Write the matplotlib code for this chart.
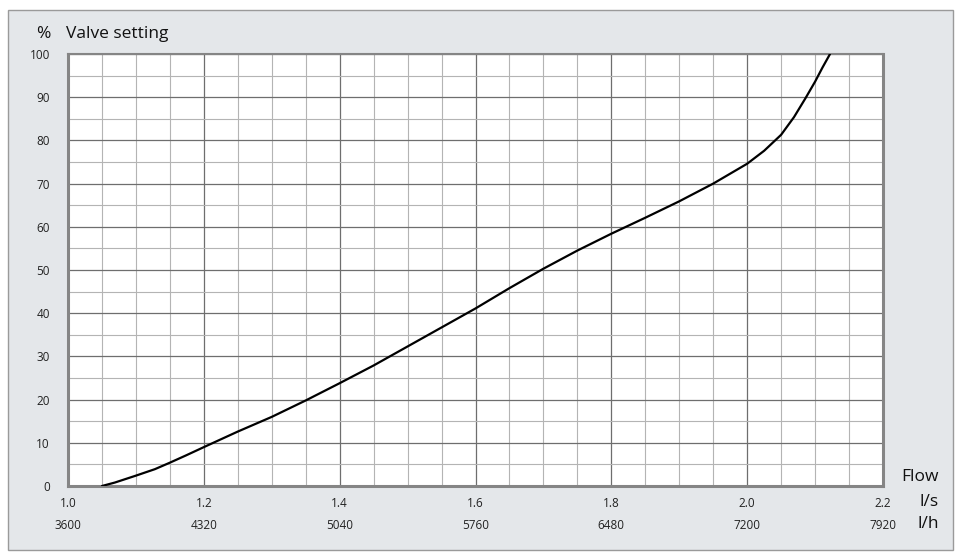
import matplotlib.pyplot as plt
from matplotlib.patches import Rectangle

plt.rcParams['font.family'] = ['Open Sans', 'DejaVu Sans']

# curve (flow in l/s, valve setting in %)
flow_ls = [1.05, 1.069, 1.10, 1.128, 1.15, 1.174, 1.20, 1.25, 1.30,
           1.35, 1.40, 1.45, 1.50, 1.55, 1.60, 1.65, 1.70, 1.75, 1.80, 1.85,
           1.90, 1.95, 2.00, 2.025, 2.05, 2.069, 2.086, 2.10, 2.111, 2.122]
setting = [0.0, 0.8, 2.4, 3.9, 5.4, 7.1, 9.0, 12.6, 16.0,
           19.8, 23.8, 27.9, 32.3, 36.7, 41.1, 45.8, 50.3, 54.5, 58.4, 62.1,
           65.9, 70.0, 74.6, 77.6, 81.3, 85.4, 89.8, 93.6, 96.9, 100.0]

ls_ticks = [1.0, 1.2, 1.4, 1.6, 1.8, 2.0, 2.2]
lh_ticks = [3600, 4320, 5040, 5760, 6480, 7200, 7920]
y_ticks = [0, 10, 20, 30, 40, 50, 60, 70, 80, 90, 100]

W, H = 962, 559
fig = plt.figure(figsize=(W / 100, H / 100), dpi=100)
fig.patch.set_facecolor('white')

# grey panel behind the chart
fig.patches.append(Rectangle((8 / W, 1 - 550 / H), 945 / W, 540 / H,
                             transform=fig.transFigure, facecolor='#e4e7ea',
                             edgecolor='#9a9a9a', linewidth=1, zorder=-10))

ax = fig.add_axes([68 / W, 1 - 486 / H, 815 / W, 432 / H])
ax.set_zorder(1)
ax.set_facecolor('white')
ax.set_xlim(1.0, 2.2)
ax.set_ylim(0, 100)

ax.set_xticks(ls_ticks)
ax.set_xticklabels([f'{v:.1f}' for v in ls_ticks])
ax.set_xticks([1.0 + 0.05 * i for i in range(25)], minor=True)
ax.set_yticks(y_ticks)
ax.set_yticks(list(range(0, 101, 5)), minor=True)

ax.grid(which='minor', color='#b4b4b4', linewidth=0.8)
ax.grid(which='major', color='#6e6e6e', linewidth=0.9)
ax.set_axisbelow(True)

ax.tick_params(which='both', length=0)
ax.tick_params(axis='x', labelsize=8.5, pad=8, colors='#222222')
ax.tick_params(axis='y', labelsize=8.5, pad=13, colors='#222222')

for side in ['left', 'bottom', 'right']:
    ax.spines[side].set_color('#858585')
    ax.spines[side].set_linewidth(2.2)
ax.spines['top'].set_color('#858585')
ax.spines['top'].set_linewidth(1.5)

ax.plot(flow_ls, setting, color='black', linewidth=1.6, zorder=3,
        solid_joinstyle='round', solid_capstyle='round')

# second row of flow labels in l/h
sec = ax.secondary_xaxis('bottom', functions=(lambda x: x * 3600, lambda x: x / 3600))
sec.set_xticks(lh_ticks)
sec.set_xticklabels([str(v) for v in lh_ticks])
sec.tick_params(length=0, labelsize=8.5, pad=24, colors='#222222')
sec.spines['bottom'].set_visible(False)

fig.text(43 / W, 1 - 34 / H, '%', fontsize=12.5, ha='center', va='center', color='#111111')
fig.text(66 / W, 1 - 34 / H, 'Valve setting', fontsize=12.5, ha='left', va='center', color='#111111')
fig.text(939 / W, 1 - 477 / H, 'Flow', fontsize=12.5, ha='right', va='center', color='#111111')
fig.text(939 / W, 1 - 502 / H, 'l/s', fontsize=12.5, ha='right', va='center', color='#111111')
fig.text(939 / W, 1 - 524 / H, 'l/h', fontsize=12.5, ha='right', va='center', color='#111111')

fig.savefig('out.png', dpi=100)
